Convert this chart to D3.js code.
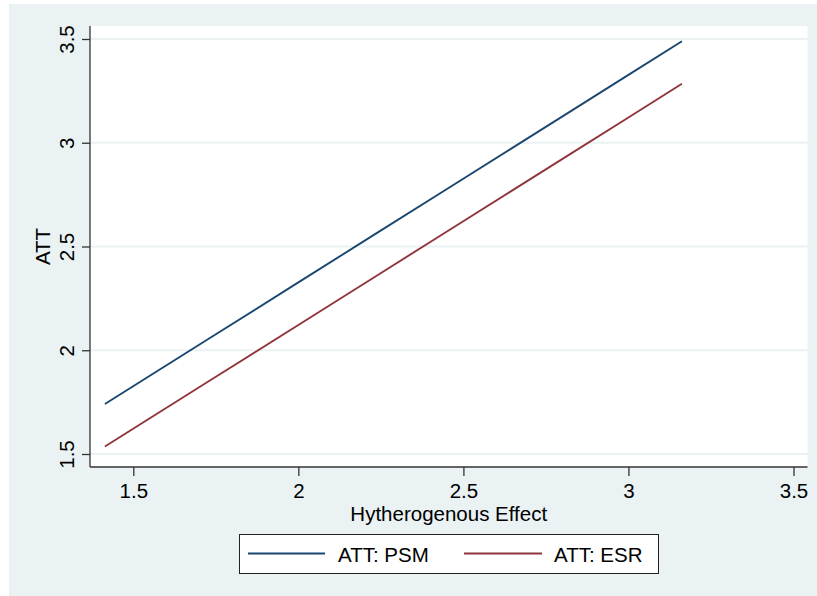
<!DOCTYPE html>
<html>
<head>
<meta charset="utf-8">
<script src="https://cdn.jsdelivr.net/npm/d3@7"></script>
<style>
  html, body { margin: 0; padding: 0; background: #ffffff; }
  svg { display: block; }
  text { font-family: "Liberation Sans", Arial, sans-serif; fill: #000; }
</style>
</head>
<body>
<svg id="chart" width="817" height="596"></svg>
<script>
// Data
const xValues   = [1.414, 1.732, 2.000, 2.236, 2.449, 2.646, 2.828, 3.000, 3.162];
const attPSM    = [1.741, 2.059, 2.327, 2.563, 2.776, 2.973, 3.155, 3.327, 3.489];
const attESR    = [1.536, 1.854, 2.122, 2.358, 2.571, 2.768, 2.950, 3.122, 3.284];
const xTicks    = [1.5, 2, 2.5, 3, 3.5];
const yTicks    = [1.5, 2, 2.5, 3, 3.5];
const seriesNames = ["ATT: PSM", "ATT: ESR"];
const seriesColors = ["#1a476f", "#90353b"];
const xTitle = "Hytherogenous Effect";
const yTitle = "ATT";

const svg = d3.select("#chart");
const W = 817, H = 596;
const plot = { left: 90, right: 807.5, top: 26, bottom: 467 };

// Outer background
svg.append("rect").attr("x", 9).attr("y", 4).attr("width", W - 9).attr("height", H - 4)
  .attr("fill", "#eaf2f3");
// Plot region
svg.append("rect").attr("x", plot.left).attr("y", plot.top)
  .attr("width", plot.right - plot.left).attr("height", plot.bottom - plot.top)
  .attr("fill", "#ffffff");

const x = d3.scaleLinear().domain([1.5, 3.5]).range([133.3, 793.5]);
const y = d3.scaleLinear().domain([1.5, 3.5]).range([454, 39]);

// Gridlines
svg.append("g").selectAll("line").data(yTicks).join("line")
  .attr("x1", plot.left).attr("x2", plot.right)
  .attr("y1", d => y(d)).attr("y2", d => y(d))
  .attr("stroke", "#eaf2f3").attr("stroke-width", 2);

// Axes
const fmt = d => String(d);
const xAxis = svg.append("g").attr("transform", `translate(0,${plot.bottom})`)
  .call(d3.axisBottom(x).tickValues(xTicks).tickFormat(fmt).tickSize(9).tickPadding(5).tickSizeOuter(0));
const yAxis = svg.append("g").attr("transform", `translate(${plot.left},0)`)
  .call(d3.axisLeft(y).tickValues(yTicks).tickFormat(fmt).tickSize(8).tickSizeOuter(0));

[xAxis, yAxis].forEach(g => {
  g.select(".domain").attr("stroke", "#333").attr("stroke-width", 1.3);
  g.selectAll(".tick line").attr("stroke", "#333").attr("stroke-width", 1.3);
  g.selectAll("text").attr("font-size", "20.5px").attr("font-family", "Liberation Sans, Arial, sans-serif").attr("fill", "#000");
});
// domain lines span the full plot region
xAxis.select(".domain").attr("d", `M${plot.left},0H${plot.right}`);
yAxis.select(".domain").attr("d", `M0,${plot.top}V${plot.bottom}`);

// rotate y tick labels
yAxis.selectAll(".tick text")
  .attr("x", null).attr("dy", null)
  .attr("text-anchor", "middle")
  .attr("transform", "translate(-16,0) rotate(-90)");

// x tick labels baseline
xAxis.selectAll(".tick text").attr("dy", null).attr("y", 30.5);

// Axis titles
svg.append("text").attr("x", (plot.left + plot.right) / 2).attr("y", 521)
  .attr("text-anchor", "middle").attr("font-size", "20.5px").text(xTitle);
svg.append("text").attr("transform", `translate(50,${(plot.top + plot.bottom) / 2}) rotate(-90)`)
  .attr("text-anchor", "middle").attr("font-size", "20.5px").text(yTitle);

// Lines
const line = d3.line().x(d => x(d[0])).y(d => y(d[1]));
[attPSM, attESR].forEach((vals, i) => {
  svg.append("path")
    .datum(xValues.map((xv, j) => [xv, vals[j]]))
    .attr("d", line)
    .attr("fill", "none")
    .attr("stroke", seriesColors[i])
    .attr("stroke-width", 1.9);
});

// Legend
const leg = svg.append("g");
leg.append("rect").attr("x", 239.5).attr("y", 534.5).attr("width", 419).attr("height", 39)
  .attr("fill", "#fff").attr("stroke", "#222").attr("stroke-width", 1);
const legItems = [
  { x0: 248, x1: 325, tx: 338 },
  { x0: 464, x1: 542, tx: 554 }
];
legItems.forEach((it, i) => {
  leg.append("line").attr("x1", it.x0).attr("x2", it.x1).attr("y1", 553.5).attr("y2", 553.5)
    .attr("stroke", seriesColors[i]).attr("stroke-width", 1.9);
  leg.append("text").attr("x", it.tx).attr("y", 562.3).attr("font-size", "20.5px").text(seriesNames[i]);
});
</script>
</body>
</html>
